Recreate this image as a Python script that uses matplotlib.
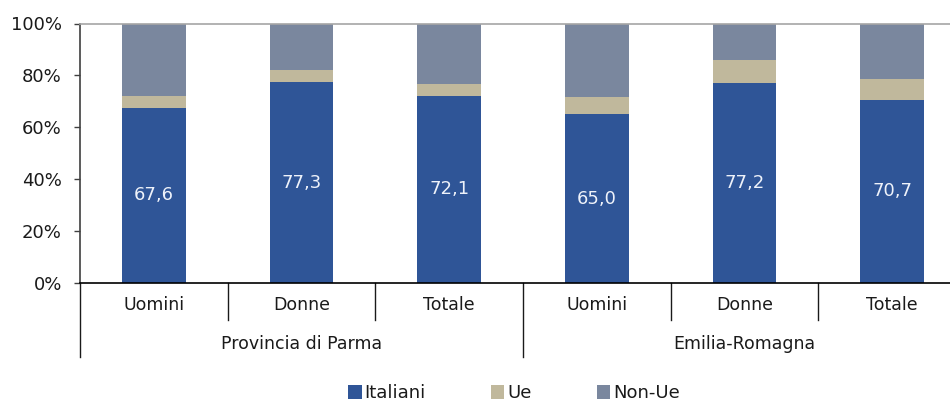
import matplotlib
matplotlib.use('Agg')
import matplotlib.pyplot as plt
import matplotlib.transforms as mtransforms
from matplotlib.patches import Patch
import numpy as np

plt.rcParams['font.family'] = ['DejaVu Sans']

# data (percent shares)
categories = ['Uomini', 'Donne', 'Totale', 'Uomini', 'Donne', 'Totale']
groups = ['Provincia di Parma', 'Emilia-Romagna']
italiani = [67.6, 77.3, 72.1, 65.0, 77.2, 70.7]
ue = [4.4, 4.9, 4.4, 6.5, 8.9, 7.9]
non_ue = [100 - a - b for a, b in zip(italiani, ue)]

C_IT = '#2f5597'
C_UE = '#c0b89c'
C_NU = '#7a879e'
TXT = '#1a1a1a'

fig = plt.figure(figsize=(9.5, 4.01), dpi=100)
ax = fig.add_axes([80 / 950, 1 - 283 / 401, 886 / 950, 259.5 / 401])

x = np.arange(len(categories))
w = 0.43
it = np.array(italiani)
u = np.array(ue)
nu = np.array(non_ue)
ax.bar(x, it, w, color=C_IT, zorder=2)
ax.bar(x, u, w, bottom=it, color=C_UE, zorder=2)
ax.bar(x, nu, w, bottom=it + u, color=C_NU, zorder=2)

for xi, v in zip(x, italiani):
    ax.text(xi, v / 2, f'{v:.1f}'.replace('.', ','), ha='center', va='center',
            color='#eef2fa', fontsize=13)

ax.set_xlim(-0.5, len(categories) - 0.5)
ax.set_ylim(0, 100)
ax.set_yticks(range(0, 101, 20))
ax.set_yticklabels([f'{t}%' for t in range(0, 101, 20)], fontsize=13, color=TXT)
ax.tick_params(axis='y', length=4, width=1, color='#404040', pad=9)
ax.set_xticks([])

ax.spines['right'].set_visible(False)
ax.spines['top'].set_color('#a6a6a6')
ax.spines['top'].set_linewidth(1.2)
ax.spines['left'].set_color('#404040')
ax.spines['left'].set_linewidth(1.2)
ax.spines['bottom'].set_color('#000000')
ax.spines['bottom'].set_linewidth(1.2)

# two-level category axis
trans = mtransforms.blended_transform_factory(ax.transData, ax.transAxes)
inner_y = -(320 - 283) / 259.5
outer_y = -(357 - 283) / 259.5
for b in np.arange(-0.5, len(categories), 1.0):
    y_end = outer_y if b in (-0.5, 2.5, 5.5) else inner_y
    ax.plot([b, b], [0, y_end], transform=trans, color='#1a1a1a', lw=1,
            clip_on=False)
for xi, c in zip(x, categories):
    ax.text(xi, -(305 - 283) / 259.5, c, transform=trans, ha='center',
            va='center', fontsize=12.5, color=TXT)
for gi, g in enumerate(groups):
    ax.text(gi * 3 + 1, -(344 - 283) / 259.5, g, transform=trans, ha='center',
            va='center', fontsize=12.5, color=TXT)

handles = [Patch(facecolor=C_IT, label='Italiani'),
           Patch(facecolor=C_UE, label='Ue'),
           Patch(facecolor=C_NU, label='Non-Ue')]
fig.legend(handles=handles, loc='center', bbox_to_anchor=(514 / 950, 1 - 393 / 401),
           ncol=3, frameon=False, fontsize=13, handlelength=0.75, handleheight=0.85,
           handletextpad=0.15, columnspacing=3.6, labelcolor=TXT)

fig.savefig('out.png', dpi=100, facecolor='white')
